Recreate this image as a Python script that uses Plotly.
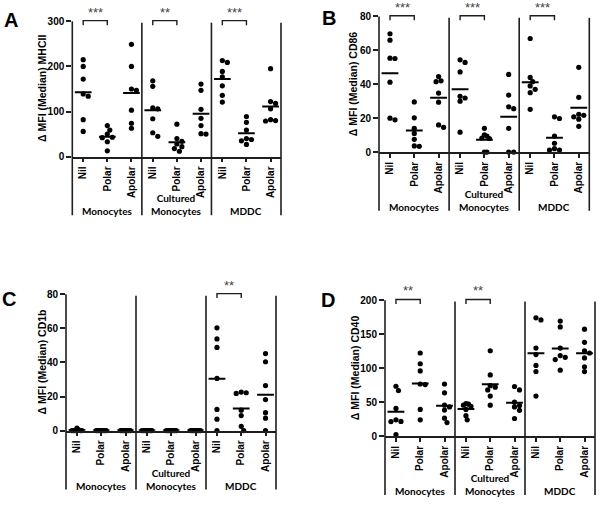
import plotly.graph_objects as go

W, H = 600, 508

# ---------------- data ----------------
treatments = ["Nil", "Polar", "Apolar"]
cell_types = ["Monocytes", "Cultured<br>Monocytes", "MDDC"]

# order: Mono Nil, Mono Polar, Mono Apolar, Cult Nil, Cult Polar, Cult Apolar, MDDC Nil, MDDC Polar, MDDC Apolar
mhcii_values = [
    [215, 200, 172, 139, 134, 82, 56],
    [69, 59, 50, 43, 42, 33, 13],
    [249, 200, 150, 147, 103, 74, 63],
    [168, 156, 108, 106, 84, 53, 45],
    [72, 40, 34, 28, 22, 18, 12],
    [161, 147, 105, 85, 69, 51, 50],
    [213, 209, 189, 177, 157, 136, 121],
    [89, 76, 59, 40, 38, 35, 27],
    [195, 122, 118, 106, 82, 80, 79],
]
mhcii_means = [143, 44, 141, 103, 32, 95, 172, 52, 111]

cd86_values = [
    [69.8, 66, 55.4, 55.2, 41.2, 20, 19],
    [29.6, 20.2, 14, 11, 7.5, 3.6, 3.4],
    [44.5, 42, 41.5, 34.8, 29.4, 16, 14.6],
    [54.4, 52.9, 47.3, 32.9, 31.9, 30, 11.7],
    [14, 10.2, 9.4, 8.3, 8, 0, 0],
    [45.8, 33.6, 26.7, 25.6, 14, 0, 0],
    [67, 44, 41.5, 39, 37, 35, 25.2],
    [20.8, 19.8, 9.4, 5.2, 2, 1.2, 1.2],
    [50, 32.3, 22.3, 21.7, 20.8, 19.4, 15.2],
]
cd86_means = [46.5, 12.7, 32, 37, 7.3, 20.8, 41.2, 8.5, 26.2]

cd1b_values = [
    [1.5, 0.5, 0, 0, 0, 0, 0],
    [0, 0, 0, 0, 0, 0, 0],
    [0, 0, 0, 0, 0, 0, 0],
    [0, 0, 0, 0, 0, 0, 0],
    [0, 0, 0, 0, 0, 0, 0],
    [0, 0, 0, 0, 0, 0, 0],
    [60.3, 53.8, 48.8, 30.6, 12.4, 6.7, 0],
    [22.6, 22.2, 21.8, 12, 8.8, 2.5, 0],
    [45.2, 40.4, 26.4, 18.2, 10.5, 7.3, 0],
]
cd1b_means = [0.3, 0, 0, 0, 0, 0, 30.5, 13, 21]

cd40_values = [
    [73.4, 67, 40.8, 24, 21.6, 21.4, 2.4],
    [122.3, 106.5, 96, 76.7, 75.8, 39.3, 24],
    [76.7, 63.8, 45.6, 43, 38.4, 26.4, 20],
    [48, 47, 45.6, 44, 39.3, 30.2, 24],
    [125.6, 90, 74.3, 72, 68, 59, 45.6],
    [73, 68, 50, 45, 43, 38, 26],
    [174, 171, 129.5, 120, 104, 95, 59],
    [169.3, 160.7, 129.5, 118.5, 116, 112.7, 97],
    [157.3, 138, 125.6, 122.3, 115, 102, 95],
]
cd40_means = [36, 77.5, 44.6, 40, 76.5, 49, 122, 129, 122]

# significance: (cell-type group index, label) for Nil vs Polar
mhcii_sig = [(0, "***"), (1, "**"), (2, "***")]
cd86_sig = [(0, "***"), (1, "***"), (2, "***")]
cd1b_sig = [(2, "**")]
cd40_sig = [(0, "**"), (1, "**")]

# ---------------- layout / style ----------------
ARIAL = "Arial, 'Liberation Sans', sans-serif"
LABEL_FONT = "Lato, 'Open Sans', sans-serif"
LINE = "#1e1e1e"
POS = [0.47, 1.51, 2.55]   # treatment positions inside a 3-unit cell-type block

panels = [
    dict(letter="A", vals=mhcii_values, means=mhcii_means, sig=mhcii_sig, ymax=300, dtick=100,
         title="Δ MFI (Median) MHCII", box=(72.3, 281.0, 16.7, 155.0), title_x=42, letter_xy=(11, 15)),
    dict(letter="B", vals=cd86_values, means=cd86_means, sig=cd86_sig, ymax=80, dtick=20,
         title="Δ MFI (Median) CD86", box=(379.0, 589.3, 11.7, 150.3), title_x=353, letter_xy=(329, 13)),
    dict(letter="C", vals=cd1b_values, means=cd1b_means, sig=cd1b_sig, ymax=80, dtick=20,
         title="Δ MFI (Median) CD1b", box=(66.0, 276.0, 295.7, 435.0), title_x=42, letter_xy=(9, 300)),
    dict(letter="D", vals=cd40_values, means=cd40_means, sig=cd40_sig, ymax=200, dtick=50,
         title="Δ MFI (Median) CD40", box=(385.0, 595.0, 301.7, 440.7), title_x=355, letter_xy=(328, 302)),
]


def swarm_offsets(vals, ppy, diam=5.0, cap=5.0):
    """Simple beeswarm: pixel offsets so that dots do not overlap."""
    order = sorted(range(len(vals)), key=lambda i: -vals[i])
    cands = [0.0]
    for k in range(1, 30):
        cands += [k * diam * 0.5, -k * diam * 0.5]
    placed, offs = [], [0.0] * len(vals)
    for i in order:
        y = vals[i] * ppy
        chosen = cands[-1]
        for c in cands:
            if all((c - px) ** 2 + (y - py) ** 2 >= (diam * 0.95) ** 2 for px, py in placed):
                chosen = c
                break
        offs[i] = chosen
        placed.append((chosen, y))
    m = max(abs(o) for o in offs)
    if m > cap:
        offs = [o * cap / m for o in offs]
    return offs


fig = go.Figure()
shapes, annotations = [], []
layout_axes = {}
EXT = -0.433  # how far the vertical lines extend below the x axis (domain units)

for p, P in enumerate(panels):
    sfx = "" if p == 0 else str(p + 1)
    xa, ya = "x" + sfx, "y" + sfx
    x0, x1, yt, yb = P["box"]
    ppx = (x1 - x0) / 9.0
    ppy = (yb - yt) / P["ymax"]

    xs, ys = [], []
    for k, vals in enumerate(P["vals"]):
        c = (k // 3) * 3 + POS[k % 3]
        offs = swarm_offsets(vals, ppy)
        xs += [c + o / ppx for o in offs]
        ys += list(vals)
    fig.add_trace(go.Scatter(x=xs, y=ys, mode="markers", xaxis=xa, yaxis=ya,
                             marker=dict(size=5.2, color="black"), cliponaxis=False,
                             showlegend=False, hoverinfo="skip"))

    mx, my = [], []
    for k, m in enumerate(P["means"]):
        c = (k // 3) * 3 + POS[k % 3]
        mx += [c - 0.36, c + 0.36, None]
        my += [m, m, None]
    fig.add_trace(go.Scatter(x=mx, y=my, mode="lines", xaxis=xa, yaxis=ya,
                             line=dict(color="black", width=2), cliponaxis=False,
                             showlegend=False, hoverinfo="skip"))

    tickvals = [(g * 3) + POS[t] for g in range(3) for t in range(3)]
    ticktext = [f"<b>{treatments[t]}</b>" for g in range(3) for t in range(3)]
    layout_axes["xaxis" + sfx] = dict(
        domain=[x0 / W, x1 / W], range=[0, 9], anchor=ya, tickvals=tickvals, ticktext=ticktext,
        tickangle=-90, ticks="outside", ticklen=4, tickwidth=1.5, tickcolor=LINE,
        showline=True, linecolor=LINE, linewidth=1.6, showgrid=False, zeroline=False,
        tickfont=dict(family=ARIAL, size=10, color="black"), fixedrange=True)
    layout_axes["yaxis" + sfx] = dict(
        domain=[(H - yb) / H, (H - yt) / H], range=[0, P["ymax"]], anchor=xa,
        tickmode="linear", tick0=0, dtick=P["dtick"], ticks="outside", ticklen=5,
        tickwidth=1.5, tickcolor=LINE, showline=False, showgrid=False, zeroline=False,
        tickfont=dict(family=ARIAL, size=10, color="black", weight="bold"), fixedrange=True)

    # vertical axis + separator lines, extended below
    for f in [0, 1 / 3, 2 / 3, 1]:
        shapes.append(dict(type="line", xref=xa + " domain", yref=ya + " domain",
                           x0=f, x1=f, y0=EXT, y1=1.0 if f == 0 else 0.99,
                           line=dict(color=LINE, width=1.6)))

    # cell type labels
    for g in range(3):
        annotations.append(dict(xref=xa + " domain", yref=ya + " domain", x=(g + 0.5) / 3, y=EXT,
                                yanchor="bottom", xanchor="center", showarrow=False,
                                text=cell_types[g], yshift=-4,
                                font=dict(family=LABEL_FONT, size=10, color="black", weight="bold")))

    # significance brackets
    for g, lab in P["sig"]:
        xa_f = (g * 3 + POS[0]) / 9.0
        xb_f = (g * 3 + POS[1]) / 9.0
        top, drop = 1.005, 0.972
        shapes.append(dict(type="path", xref=xa + " domain", yref=ya + " domain",
                           path=f"M {xa_f},{drop} L {xa_f},{top} L {xb_f},{top} L {xb_f},{drop}",
                           line=dict(color=LINE, width=1.4)))
        annotations.append(dict(xref=xa + " domain", yref=ya + " domain", x=(xa_f + xb_f) / 2, y=top,
                                yanchor="bottom", xanchor="center", showarrow=False, text=lab,
                                yshift=-1, font=dict(family=ARIAL, size=13, color="#444")))

    # y title
    annotations.append(dict(xref="paper", yref=ya + " domain", x=P["title_x"] / W, y=0.5,
                            xanchor="center", yanchor="middle", textangle=-90, showarrow=False,
                            text=P["title"],
                            font=dict(family=ARIAL, size=10.5, color="black", weight="bold")))
    # panel letter
    lx, ly = P["letter_xy"]
    annotations.append(dict(xref="paper", yref="paper", x=lx / W, y=(H - ly) / H,
                            xanchor="center", yanchor="middle", showarrow=False,
                            text=f"<b>{P['letter']}</b>",
                            font=dict(family=ARIAL, size=20, color="black")))

fig.update_layout(width=W, height=H, margin=dict(l=0, r=0, t=0, b=0),
                  paper_bgcolor="white", plot_bgcolor="white",
                  shapes=shapes, annotations=annotations, **layout_axes)

fig.write_html("out.html", config={"displayModeBar": False},
               post_script="document.body.style.margin='0';document.body.style.overflow='hidden';")
